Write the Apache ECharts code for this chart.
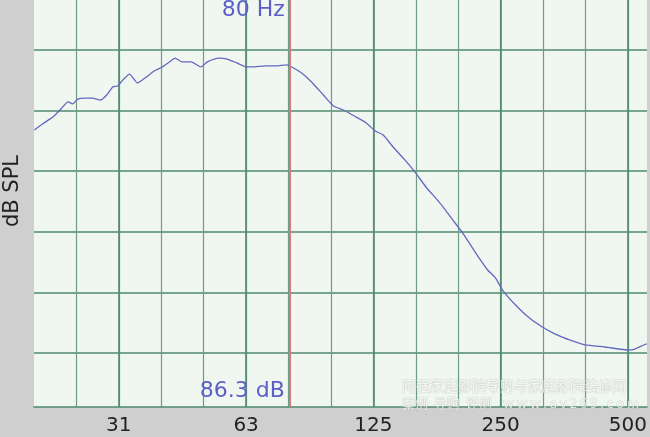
<!DOCTYPE html>
<html lang="zh">
<head>
    <meta charset="UTF-8">
    <title>dB SPL</title>
    <script src="https://cdn.jsdelivr.net/npm/echarts@6/dist/echarts.min.js"></script>
    <style>
        * { margin: 0; padding: 0; box-sizing: border-box; }
        html, body { width: 650px; height: 437px; overflow: hidden; background: #cfcfcf; }
        #chart { width: 650px; height: 437px; }
    </style>
</head>
<body>
    <div id="chart"></div>
    <script>
        // 频率 (Hz) 与声压级 (dB)
        const freqHz = [20, 20.9, 22.1, 23.2, 24.0, 24.6, 25.3, 26.3, 27.4, 28.6, 29.6, 30.6,
            31.4, 32.3, 33.5, 35.0, 36.7, 38.3, 40.0, 41.6, 42.9, 44.6, 46.8, 49.4, 51.1,
            54.5, 56.9, 60.0, 63.4, 65.1, 70.2, 74.1, 78.6, 80.8, 85.3, 90.0, 96.0, 101.4,
            107.0, 114.7, 121.1, 127.2, 132.8, 140.1, 149.5, 157.8, 167.5, 180.6, 193.8,
            204.5, 219.5, 234.1, 244.4, 253.8, 272.3, 293.7, 315.0, 337.8, 366.5, 397.4,
            442.7, 504.0, 520.5, 546.4, 555.4];
        const splDb = [83.04, 83.34, 83.68, 84.13, 84.43, 84.33, 84.57, 84.62, 84.62, 84.52, 84.77, 85.17,
            85.22, 85.51, 85.81, 85.37, 85.66, 85.96, 86.16, 86.41, 86.60, 86.41, 86.41, 86.16, 86.41,
            86.60, 86.55, 86.36, 86.16, 86.16, 86.21, 86.21, 86.26, 86.16, 85.86, 85.42, 84.77, 84.23,
            84.03, 83.68, 83.39, 82.99, 82.79, 82.20, 81.55, 80.96, 80.22, 79.43, 78.58,
            77.94, 76.95, 76.11, 75.71, 75.12, 74.38, 73.73, 73.29, 72.94, 72.64, 72.40,
            72.30, 72.15, 72.20, 72.40, 72.45];

        // 倍频程刻度标签 (1/3 倍频程带号 -> 标签)
        const octaveBands = [15, 18, 21, 24, 27];
        const octaveLabels = ['31', '63', '125', '250', '500'];

        // 光标读数
        const cursorHz = 80;
        const cursorDb = 86.3;

        const band = f => 10 * Math.log10(f);
        const gridColor = '#4f8a6c';
        const textBlue = '#5b5fc7';

        const chart = echarts.init(document.getElementById('chart'));
        chart.setOption({
            backgroundColor: '#cfcfcf',
            animation: false,
            grid: {
                left: 34, right: 0, top: 0, bottom: 30,
                show: true, backgroundColor: '#eff7f0', borderWidth: 0
            },
            xAxis: [
                {
                    // 1/3 倍频程细网格
                    type: 'value', position: 'top', min: 13, max: 27.45, interval: 1,
                    axisLine: { show: false }, axisTick: { show: false }, axisLabel: { show: false },
                    splitLine: { show: true, showMinLine: false, showMaxLine: false,
                        lineStyle: { color: '#6f9c85', width: 1.2 } }
                },
                {
                    // 倍频程粗网格和标签
                    type: 'value', position: 'bottom', min: 13, max: 27.45, splitNumber: 5,
                    axisLine: { show: true, lineStyle: { color: gridColor, width: 1.5 } },
                    axisTick: { show: false },
                    axisLabel: {
                        show: true, margin: 9, color: '#222', fontSize: 20,
                        fontFamily: 'DejaVu Sans', showMaxLabel: false, showMinLabel: false,
                        formatter: function (v) {
                            const i = octaveBands.indexOf(Math.round(v));
                            return (i >= 0 && Math.abs(v - Math.round(v)) < 0.01) ? octaveLabels[i] : '';
                        }
                    },
                    splitLine: { show: true, showMinLine: false, showMaxLine: false,
                        lineStyle: { color: gridColor, width: 1.6 } }
                }
            ],
            yAxis: {
                type: 'value', min: 69.33, max: 89.475, splitNumber: 7,
                axisLine: { show: false }, axisTick: { show: false }, axisLabel: { show: false },
                splitLine: { show: true, showMinLine: false, showMaxLine: false,
                    lineStyle: { color: gridColor, width: 1.5 } }
            },
            series: [
                {
                    type: 'line',
                    xAxisIndex: 1,
                    data: freqHz.map((f, i) => [band(f), splDb[i]]),
                    showSymbol: false,
                    smooth: 0.2,
                    lineStyle: { color: '#6368c0', width: 1.3 },
                    markLine: {
                        silent: true,
                        symbol: 'none',
                        label: { show: false },
                        lineStyle: { color: '#d8787f', width: 2, type: 'solid' },
                        data: [{ xAxis: band(cursorHz) }]
                    }
                }
            ]
        });

        // 光标读数文字，贴在红线左侧
        const cx = chart.convertToPixel({ xAxisIndex: 1 }, band(cursorHz));
        chart.setOption({
            graphic: [
                {
                    type: 'text', x: cx - 5, y: 10, z: 10,
                    style: {
                        text: cursorHz + ' Hz', fill: textBlue, fontSize: 22,
                        fontFamily: 'DejaVu Sans', align: 'right', verticalAlign: 'middle'
                    }
                },
                {
                    type: 'text', x: cx - 5, y: 391, z: 10,
                    style: {
                        text: cursorDb + ' dB', fill: textBlue, fontSize: 22,
                        fontFamily: 'DejaVu Sans', align: 'right', verticalAlign: 'middle'
                    }
                },
                {
                    type: 'text', x: 13, y: 191, rotation: Math.PI / 2, z: 10,
                    style: {
                        text: 'dB SPL', fill: '#222', fontSize: 21,
                        fontFamily: 'DejaVu Sans', align: 'center', verticalAlign: 'middle'
                    }
                },
                {
                    type: 'text', x: 402, y: 386, z: 10,
                    style: {
                        text: '阿强家庭影院导购与家庭影院装修网', fill: 'rgba(255,255,255,0.75)',
                        stroke: 'rgba(150,150,150,0.3)', lineWidth: 1,
                        fontSize: 14, fontFamily: 'Noto Sans CJK SC', verticalAlign: 'middle'
                    }
                },
                {
                    type: 'text', x: 402, y: 403, z: 10,
                    style: {
                        text: '案例  导购  评测    w w w . a v 2 6 9 . c o m', fill: 'rgba(255,255,255,0.75)',
                        stroke: 'rgba(150,150,150,0.3)', lineWidth: 1,
                        fontSize: 13, fontFamily: 'Noto Sans CJK SC', verticalAlign: 'middle'
                    }
                }
            ]
        });

        window.addEventListener('resize', function () {
            chart.resize();
        });
    </script>
</body>
</html>
